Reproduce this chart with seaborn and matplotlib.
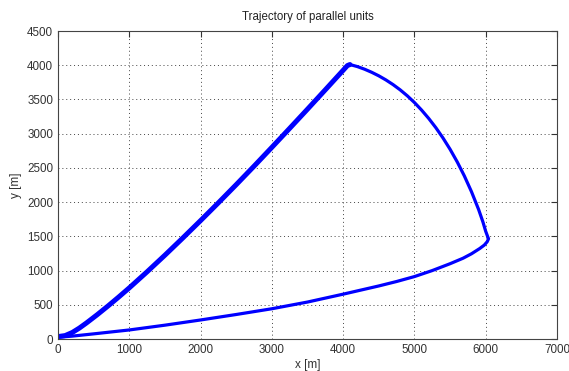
import matplotlib
matplotlib.use("Agg")
import matplotlib.pyplot as plt
import seaborn as sns
import pandas as pd

# Upper (outbound) branch
up_x = [0, 100, 200, 300, 400, 550, 700, 850, 1000, 1250, 1500, 1750, 2000,
        2250, 2500, 2750, 3000, 3250, 3500, 3750, 4000, 4060, 4095]
up_y = [35, 50, 95, 160, 235, 355, 481, 612, 747, 982, 1225, 1475, 1730,
        1990, 2255, 2525, 2800, 3078, 3358, 3641, 3926, 3995, 4010]
# Arc from the peak down to the turning point
arc_x = [4095, 4200, 4300, 4400, 4500, 4600, 4700, 4800, 4900, 5000, 5100,
         5200, 5300, 5400, 5500, 5600, 5700, 5800, 5900, 5960, 6000, 6030, 6040]
arc_y = [4010, 3980, 3942, 3897, 3845, 3785, 3717, 3640, 3553, 3455, 3345,
         3223, 3088, 2938, 2772, 2588, 2383, 2153, 1893, 1713, 1573, 1489, 1465]
# Lower (return) branch
lo_x = [6040, 6020, 5980, 5916, 5800, 5682, 5500, 5250, 5000, 4750, 4500,
        4000, 3500, 3000, 2500, 2000, 1500, 1000, 500, 200, 0]
lo_y = [1465, 1420, 1372, 1322, 1245, 1180, 1100, 1000, 912, 840, 775,
        655, 540, 442, 358, 278, 202, 132, 75, 42, 25]

sns.set_theme(style="white")
plt.rcParams['font.family'] = ['Liberation Sans', 'DejaVu Sans']

fig = plt.figure(figsize=(5.69, 3.71), dpi=100)
ax = fig.add_axes([58/569, 32/371, (557-58)/569, (339-31)/371])

df_up = pd.DataFrame({"x": up_x, "y": up_y})
df_rest = pd.DataFrame({"x": arc_x + lo_x, "y": arc_y + lo_y})
sns.lineplot(data=df_up, x="x", y="y", sort=False, estimator=None, ax=ax,
             color="#0000ff", linewidth=3.6, solid_joinstyle="round",
             solid_capstyle="round")
sns.lineplot(data=df_rest, x="x", y="y", sort=False, estimator=None, ax=ax,
             color="#0000ff", linewidth=2.3, solid_joinstyle="round",
             solid_capstyle="round")

ax.set_xlim(0, 7000)
ax.set_ylim(0, 4500)
ax.set_xticks(range(0, 7001, 1000))
ax.set_yticks(range(0, 4501, 500))
ax.grid(True, linestyle=(0, (1, 3)), color="#444444", linewidth=0.7)
ax.tick_params(direction="in", length=4, width=0.8, colors="#333333",
               labelsize=8.4, top=True, right=True, labelcolor="#333333")
for s in ax.spines.values():
    s.set_color("#444444")
    s.set_linewidth(0.8)
ax.set_xlabel("x [m]", fontsize=8.5, color="#333333", labelpad=2.5)
ax.set_ylabel("y [m]", fontsize=8.5, color="#333333", labelpad=4)
ax.set_title("Trajectory of parallel units", fontsize=8.3, color="#222222", pad=8)

fig.savefig("out.png", dpi=100, facecolor="white")
